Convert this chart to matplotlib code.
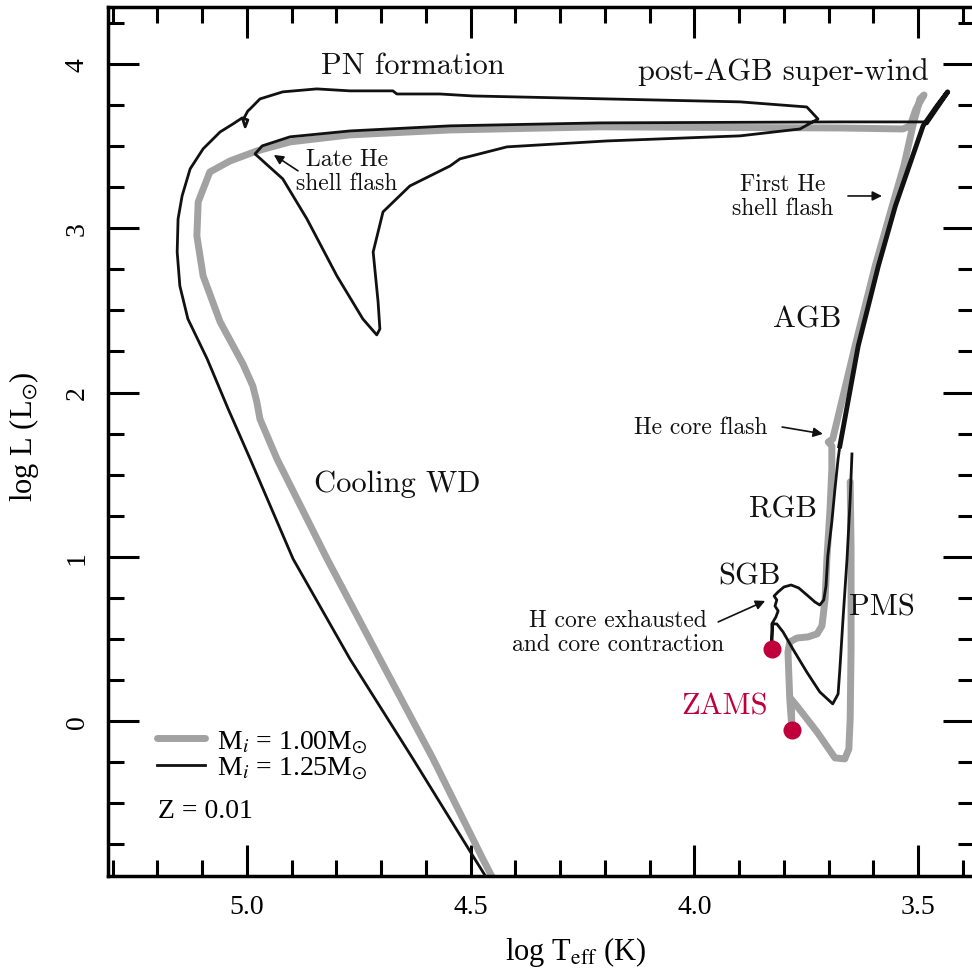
import matplotlib.pyplot as plt
from matplotlib.lines import Line2D
from matplotlib.ticker import MultipleLocator

plt.rcParams['font.family'] = 'Liberation Serif'
plt.rcParams['mathtext.fontset'] = 'stix'

# Track for M_i = 1.00 Msun (log Teff, log L), PMS -> ZAMS -> RGB -> AGB -> WD
m100_teff = [3.652, 3.650, 3.650, 3.652, 3.655, 3.664, 3.686, 3.726, 3.771, 3.784, 3.782,
             3.787, 3.791, 3.787, 3.771, 3.746, 3.726, 3.715, 3.708,
             3.704, 3.697, 3.693, 3.693, 3.701, 3.691,
             3.641, 3.596, 3.558, 3.532, 3.512, 3.496, 3.487, 3.505, 3.518, 3.534,
             3.675, 4.211, 4.546, 4.770, 4.904, 4.978, 5.038, 5.083, 5.109, 5.112,
             5.098, 5.060, 5.009, 4.987, 4.978, 4.971, 4.933, 4.821, 4.703, 4.584,
             4.473, 4.435]
m100_logl = [1.456, 1.048, 0.438, 0.012, -0.171, -0.231, -0.225, -0.067, 0.091, 0.134, -0.055,
             0.134, 0.420, 0.481, 0.505, 0.512, 0.530, 0.579, 0.743,
             0.987, 1.291, 1.535, 1.675, 1.699, 1.717,
             2.284, 2.771, 3.136, 3.380, 3.624, 3.788, 3.812, 3.727, 3.624, 3.605,
             3.611, 3.618, 3.599, 3.569, 3.526, 3.471, 3.410, 3.343, 3.161, 2.954,
             2.710, 2.430, 2.174, 2.040, 1.943, 1.839, 1.596, 0.987, 0.378, -0.231,
             -0.840, -1.041]

# Track for M_i = 1.25 Msun, split by phase
m125_early_teff = [3.648, 3.652, 3.659, 3.668, 3.675, 3.679, 3.691, 3.720, 3.749, 3.780,
                   3.802, 3.816, 3.825, 3.827, 3.827,
                   3.827, 3.818, 3.813, 3.820, 3.816, 3.822, 3.813, 3.800, 3.784, 3.767,
                   3.746, 3.731, 3.720, 3.711, 3.706, 3.702, 3.693, 3.686, 3.679, 3.675]
m125_early_logl = [1.626, 1.352, 0.987, 0.621, 0.317, 0.164, 0.104, 0.177, 0.298, 0.438,
                   0.542, 0.591, 0.591, 0.499, 0.438,
                   0.591, 0.633, 0.670, 0.700, 0.737, 0.761, 0.786, 0.816, 0.828, 0.810,
                   0.761, 0.725, 0.706, 0.737, 0.822, 1.005, 1.212, 1.413, 1.596, 1.675]

m125_agb_teff = [3.675, 3.634, 3.589, 3.551, 3.520, 3.489, 3.458, 3.434, 3.480]
m125_agb_logl = [1.675, 2.284, 2.771, 3.136, 3.380, 3.624, 3.745, 3.831, 3.648]

m125_post_teff = [3.480, 3.675, 4.211, 4.546, 4.770, 4.904, 4.966, 4.982,
                  4.920, 4.866, 4.799, 4.741, 4.710, 4.703, 4.707, 4.718, 4.696, 4.636,
                  4.546, 4.524, 4.419, 4.196, 3.898, 3.764, 3.724, 3.749, 3.898, 4.196,
                  4.495, 4.569, 4.665, 4.674, 4.770, 4.844, 4.920, 4.971, 4.993, 4.998,
                  5.009, 5.004, 4.998, 5.011, 5.031, 5.060, 5.098, 5.127, 5.145, 5.154,
                  5.156, 5.150, 5.132, 5.089, 5.042, 4.993, 4.897, 4.770, 4.629, 4.491,
                  4.435]
m125_post_logl = [3.648, 3.648, 3.642, 3.624, 3.593, 3.557, 3.502, 3.453,
                  3.301, 3.057, 2.710, 2.448, 2.351, 2.387, 2.552, 2.856, 3.100, 3.258,
                  3.380, 3.423, 3.496, 3.532, 3.563, 3.605, 3.666, 3.739, 3.770, 3.788,
                  3.806, 3.818, 3.818, 3.837, 3.837, 3.849, 3.831, 3.788, 3.727, 3.715,
                  3.660, 3.618, 3.660, 3.672, 3.636, 3.587, 3.484, 3.362, 3.197, 3.057,
                  2.856, 2.649, 2.448, 2.205, 1.900, 1.596, 0.987, 0.378, -0.231, -0.840,
                  -1.084]

zams_teff = [3.827, 3.782]
zams_logl = [0.438, -0.055]

GRAY = '#a2a2a2'
INK = '#111111'
RED = '#c0003c'

fig = plt.figure(figsize=(9.72, 9.70), dpi=100)
ax = fig.add_axes([0.1111, 0.0959, 0.8909, 0.8959])

ax.plot(m100_teff, m100_logl, color=GRAY, lw=5, solid_joinstyle='round',
        solid_capstyle='round', zorder=2)
ax.plot(m125_early_teff, m125_early_logl, color=INK, lw=2, solid_joinstyle='round', zorder=3)
ax.plot(m125_agb_teff, m125_agb_logl, color=INK, lw=3.5, solid_joinstyle='round', zorder=3)
ax.plot(m125_post_teff, m125_post_logl, color=INK, lw=2, solid_joinstyle='round', zorder=3)
ax.plot(zams_teff, zams_logl, 'o', color=RED, ms=13, mec='none', zorder=5)

ax.set_xlim(5.3106, 3.3754)
ax.set_ylim(-0.944, 4.348)
ax.xaxis.set_major_locator(MultipleLocator(0.5))
ax.xaxis.set_minor_locator(MultipleLocator(0.1))
ax.yaxis.set_major_locator(MultipleLocator(1))
ax.yaxis.set_minor_locator(MultipleLocator(0.25))
ax.xaxis.set_major_formatter(lambda v, p: f'{v:.1f}')
ax.yaxis.set_major_formatter(lambda v, p: f'{v:.0f}')

ax.tick_params(which='both', direction='in', top=True, right=True, width=2.2,
               labelsize=20, pad=13)
ax.tick_params(which='major', length=22)
ax.tick_params(which='minor', length=11.5)
ax.tick_params(axis='y', labelrotation=90)
for lab in ax.get_yticklabels():
    lab.set_va('center')
for sp in ax.spines.values():
    sp.set_linewidth(2.5)

fig.text(576 / 972, 1 - 952 / 970, r'log T$_{\rm eff}$ (K)', fontsize=22,
         ha='center', va='center')
fig.text(24 / 972, 1 - 437 / 970, r'log L (L$_{\odot}$)', fontsize=22,
         ha='center', va='center', rotation=90)

# phase labels
big = dict(family='cmr10', fontsize=22, ha='center', va='center', color=INK)
small = dict(family='cmr10', fontsize=17, ha='center', va='center', color=INK,
             linespacing=1.1)
arrow = dict(arrowstyle='-|>', color=INK, lw=1.2, mutation_scale=14, shrinkA=0, shrinkB=0)

ax.text(4.629, 3.995, 'PN formation', **big)
ax.text(3.802, 3.959, 'post-AGB super-wind', **big)
ax.text(3.749, 2.448, 'AGB', **big)
ax.text(3.802, 1.291, 'RGB', **big)
ax.text(3.876, 0.883, 'SGB', **big)
ax.text(3.581, 0.694, 'PMS', **big)
ax.text(4.665, 1.449, 'Cooling WD', **big)
ax.text(3.932, 0.091, 'ZAMS', **{**big, 'color': RED})

ax.text(4.777, 3.350, 'Late He\nshell flash', **small)
ax.annotate('', xy=(4.940, 3.447), xytext=(4.886, 3.350), arrowprops=arrow)
ax.text(3.802, 3.197, 'First He\nshell flash', **small)
ax.annotate('', xy=(3.581, 3.197), xytext=(3.657, 3.197), arrowprops=arrow)
ax.text(3.985, 1.790, 'He core flash', **small)
ax.annotate('', xy=(3.713, 1.748), xytext=(3.804, 1.790), arrowprops=arrow)
ax.text(4.171, 0.542, 'H core exhausted\nand core contraction', **small)
ax.annotate('', xy=(3.842, 0.731), xytext=(3.947, 0.603), arrowprops=arrow)

handles = [Line2D([], [], color=GRAY, lw=5, solid_capstyle='round'),
           Line2D([], [], color=INK, lw=2)]
ax.legend(handles, [r'M$_i$ = 1.00M$_{\odot}$', r'M$_i$ = 1.25M$_{\odot}$'],
          loc='upper left', bbox_to_anchor=(0.0566, 0.170), frameon=False,
          fontsize=20, borderpad=0, borderaxespad=0, handlelength=1.73,
          handletextpad=0.43, labelspacing=0.0)
ax.text(0.0577, 0.0748, 'Z = 0.01', transform=ax.transAxes, fontsize=20,
        ha='left', va='center')

fig.savefig('out.png', dpi=100)
